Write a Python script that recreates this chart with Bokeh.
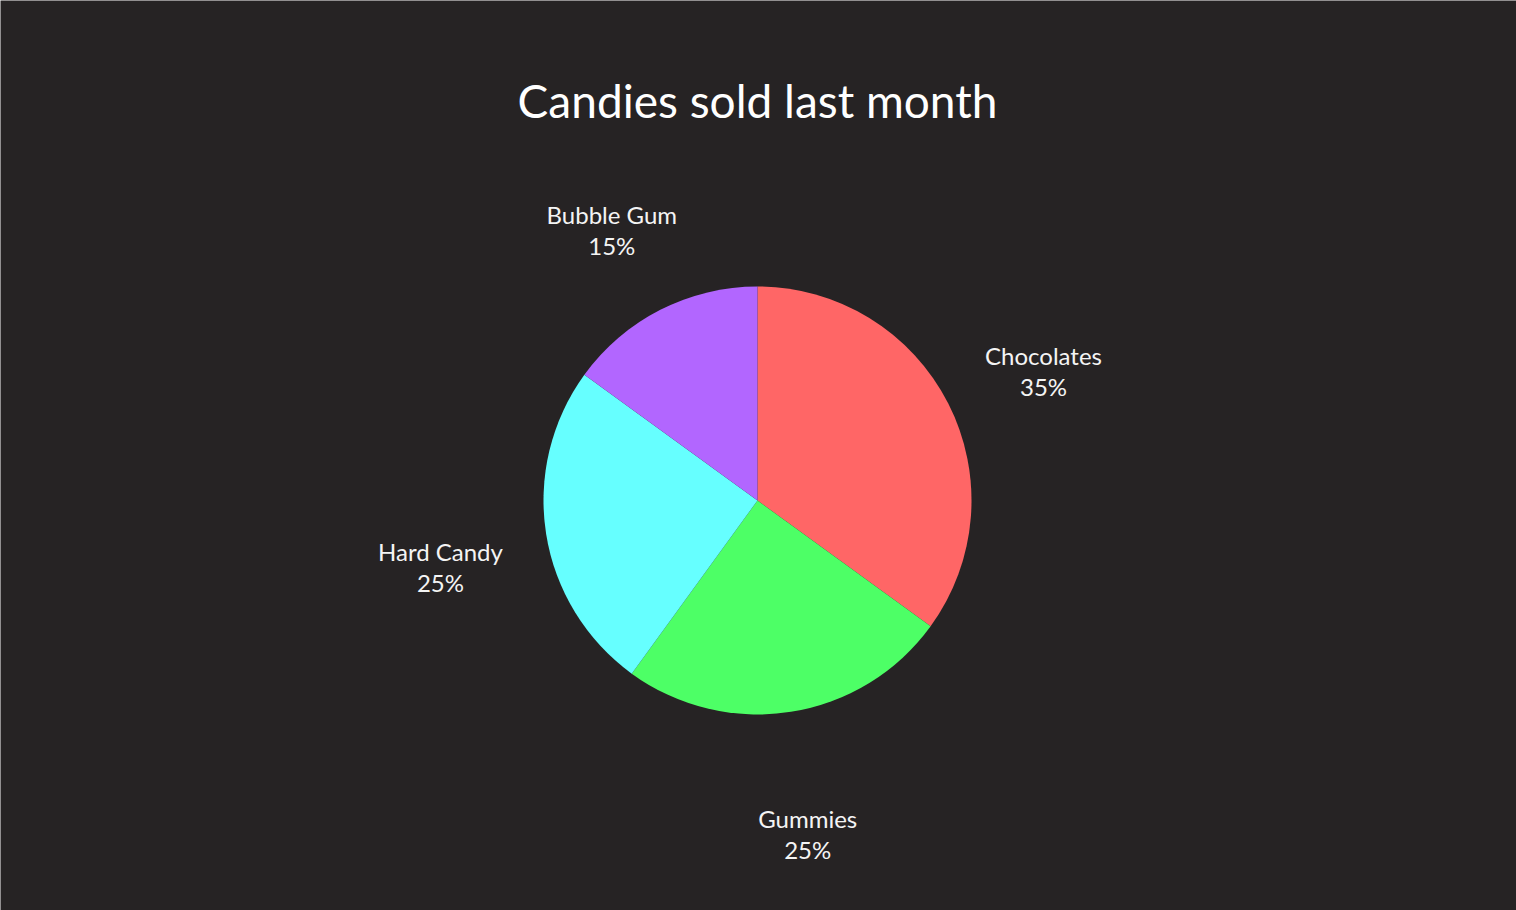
import numpy as np
from bokeh.plotting import figure
from bokeh.models import ColumnDataSource, Range1d
from bokeh.core.properties import value
from bokeh.embed import file_html
from bokeh.resources import INLINE

title_text = "Candies sold last month"
categories = ["Chocolates", "Gummies", "Hard Candy", "Bubble Gum"]
shares = [35, 25, 25, 15]
colors = ["#ff6666", "#4dff66", "#66ffff", "#b266ff"]

W, H = 1516, 910
bg = "#262324"
cx, cy = 757, H - 500
R = 214
label_r = 1.5 * R

frac = np.array(shares, dtype=float) / sum(shares)
cum = np.concatenate([[0], np.cumsum(frac)])
start = np.pi / 2 - cum[:-1] * 2 * np.pi
end = np.pi / 2 - cum[1:] * 2 * np.pi
mid = (start + end) / 2
labels = [f"{c}\n{s}%" for c, s in zip(categories, shares)]

src = ColumnDataSource(dict(
    cat=categories, share=shares, color=colors,
    start=start, end=end,
    lx=cx + label_r * np.cos(mid), ly=cy + label_r * np.sin(mid),
    label=labels,
))

p = figure(width=W, height=H, output_backend="svg", toolbar_location=None,
           x_range=Range1d(0, W), y_range=Range1d(0, H),
           min_border=0, background_fill_color=bg, border_fill_color=bg)
p.axis.visible = False
p.grid.visible = False
p.outline_line_color = None

p.wedge(x=cx, y=cy, radius=R, start_angle="start", end_angle="end",
        direction="clock", fill_color="color", line_color=None, source=src)

p.text(x="lx", y="ly", text="label", source=src, text_align="center",
       text_baseline="middle", text_color="#f4f4f4", y_offset=16,
       text_font=value("Lato"), text_font_size="24px", text_line_height=1.07)

p.text(x=[cx], y=[H - 100], text=[title_text], text_align="center",
       text_baseline="middle", text_color="#ffffff",
       text_font=value("Lato"), text_font_size="46px")

open("out.html", "w").write(file_html(p, INLINE))
